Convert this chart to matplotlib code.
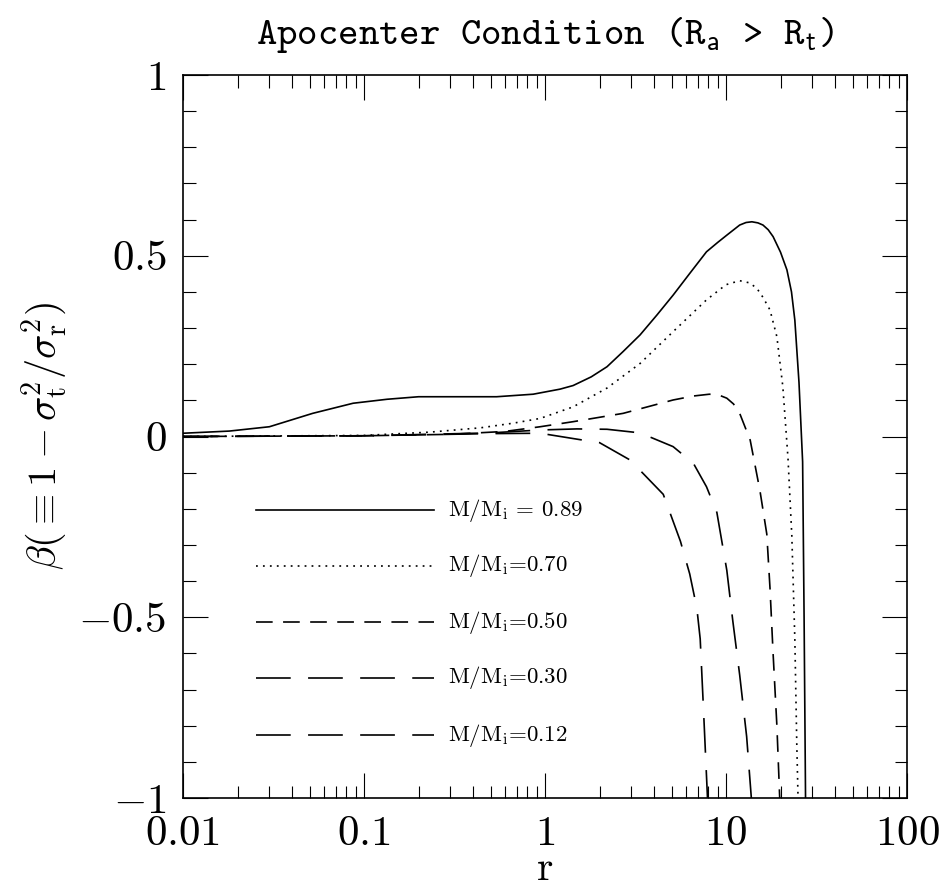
import numpy as np
import matplotlib
matplotlib.use("Agg")
import matplotlib.pyplot as plt
from matplotlib.ticker import MultipleLocator, LogLocator, NullFormatter
from matplotlib.lines import Line2D

plt.rcParams['mathtext.fontset'] = 'cm'
plt.rcParams['font.family'] = 'cmr10'
plt.rcParams['axes.unicode_minus'] = False
plt.rcParams['lines.scale_dashes'] = False

# values, beta(r) for each M/Mi
r_089 = [0.01, 0.018, 0.03, 0.052, 0.087, 0.134, 0.2, 0.3, 0.54, 0.86, 1.21, 1.43,
         1.8, 2.2, 2.7, 3.35, 4.15, 5.1, 6.3, 7.8, 9.0, 10.1, 11.9, 12.9, 13.9, 15.0,
         16.0, 17.1, 18.2, 20.0, 21.7, 23.0, 24.0, 25.3, 26.5, 27.0, 27.5]
b_089 = [0.009, 0.015, 0.027, 0.064, 0.092, 0.103, 0.110, 0.110, 0.110, 0.117, 0.131, 0.141,
         0.165, 0.193, 0.235, 0.281, 0.336, 0.391, 0.451, 0.511, 0.537, 0.557, 0.585, 0.592,
         0.594, 0.591, 0.585, 0.572, 0.553, 0.51, 0.461, 0.40, 0.322, 0.15, -0.07, -0.5, -1.0]

r_070 = [0.01, 0.1, 0.23, 0.44, 0.67, 0.94, 1.43, 2.2, 3.35, 5.1, 7.8, 10.0, 11.9,
         13.5, 14.8, 16.0, 17.5, 19.1, 20.6, 22.0, 23.1, 24.0, 24.6, 25.0]
b_070 = [0.0, 0.003, 0.012, 0.024, 0.037, 0.050, 0.082, 0.134, 0.202, 0.290, 0.378, 0.42, 0.431,
         0.425, 0.41, 0.385, 0.35, 0.276, 0.138, -0.06, -0.275, -0.56, -0.85, -1.0]

r_050 = [0.01, 0.1, 0.3, 0.6, 0.94, 1.43, 2.7, 5.1, 6.6, 8.1, 9.2, 10.1, 11.0, 11.9, 13.6, 15.4,
         16.8, 17.5, 18.2, 19.1, 19.8]
b_050 = [0.0, 0.002, 0.006, 0.014, 0.027, 0.041, 0.064, 0.101, 0.112, 0.117, 0.114, 0.106,
         0.09, 0.064, -0.01, -0.15, -0.27, -0.42, -0.6, -0.8, -1.0]

r_030 = [0.01, 0.1, 0.5, 0.94, 1.5, 2.2, 3.35, 5.1, 6.6, 7.8, 8.9, 10.1, 10.9, 11.9, 13.0, 13.8]
b_030 = [0.0, 0.002, 0.01, 0.018, 0.021, 0.02, 0.01, -0.028, -0.074, -0.139, -0.21, -0.37,
         -0.51, -0.66, -0.83, -1.0]

r_012 = [0.01, 0.1, 0.5, 0.94, 1.62, 2.0, 2.95, 4.5, 5.6, 6.3, 6.9, 7.2, 7.5, 7.9]
b_012 = [0.0, 0.002, 0.008, 0.009, -0.01, -0.017, -0.065, -0.16, -0.29, -0.38, -0.475,
         -0.56, -0.75, -1.0]

labels = [r'M/M$_{\rm i}$ = 0.89', r'M/M$_{\rm i}$=0.70', r'M/M$_{\rm i}$=0.50',
          r'M/M$_{\rm i}$=0.30', r'M/M$_{\rm i}$=0.12']
styles = ['-', (0, (1.3, 3.7)), (0, (12, 7.5)), (0, (25, 12.5)), (0, (25, 12.5))]

fig = plt.figure(figsize=(9.45, 8.9), dpi=100)
ax = fig.add_axes([0.1937, 0.1034, 0.7661, 0.8123])

curves = [(r_089, b_089), (r_070, b_070), (r_050, b_050), (r_030, b_030), (r_012, b_012)]
for (r, b), ls in zip(curves, styles):
    ax.plot(r, b, color='black', lw=1.2, linestyle=ls)

# legend drawn by hand, like the original
row_y = [0.398, 0.321, 0.243, 0.166, 0.087]
for yy, ls, lab in zip(row_y, styles, labels):
    ax.add_line(Line2D([0.1008, 0.3467], [yy, yy], transform=ax.transAxes,
                       color='black', lw=1.2, linestyle=ls))
    ax.text(0.366, yy, lab, transform=ax.transAxes, fontsize=16.5, va='center', ha='left')

ax.set_xscale('log')
ax.set_xlim(0.01, 100)
ax.set_ylim(-1, 1)

ax.set_xticks([0.01, 0.1, 1, 10, 100],
              labels=[r'$0.01$', r'$0.1$', r'$1$', r'$10$', r'$100$'])
ax.xaxis.set_minor_locator(LogLocator(base=10, subs=np.arange(2, 10)))
ax.xaxis.set_minor_formatter(NullFormatter())
ax.set_yticks([-1, -0.5, 0, 0.5, 1],
              labels=[r'$-1$', r'$-0.5$', r'$0$', r'$0.5$', r'$1$'])
ax.yaxis.set_minor_locator(MultipleLocator(0.1))

ax.tick_params(which='both', direction='in', top=True, right=True, width=0.8, labelsize=31)
ax.tick_params(which='major', length=18)
ax.tick_params(which='minor', length=9)
ax.tick_params(axis='x', which='major', pad=13)
ax.tick_params(axis='y', which='major', pad=12)
for s in ax.spines.values():
    s.set_linewidth(1.2)

ax.set_xlabel(r'$\mathrm{r}$', fontsize=30, va='baseline')
ax.xaxis.set_label_coords(0.5, -0.114)
ax.set_ylabel(r'$\beta(\equiv 1 - \sigma_{\rm t}^2/\sigma_{\rm r}^2)$', fontsize=29, labelpad=6)
ax.set_title(r'Apocenter Condition (R$_{\mathsf{a}}$ > R$_{\mathsf{t}}$)',
             fontfamily='cmtt10', fontsize=28, pad=22)

fig.savefig('out.png', dpi=100)
